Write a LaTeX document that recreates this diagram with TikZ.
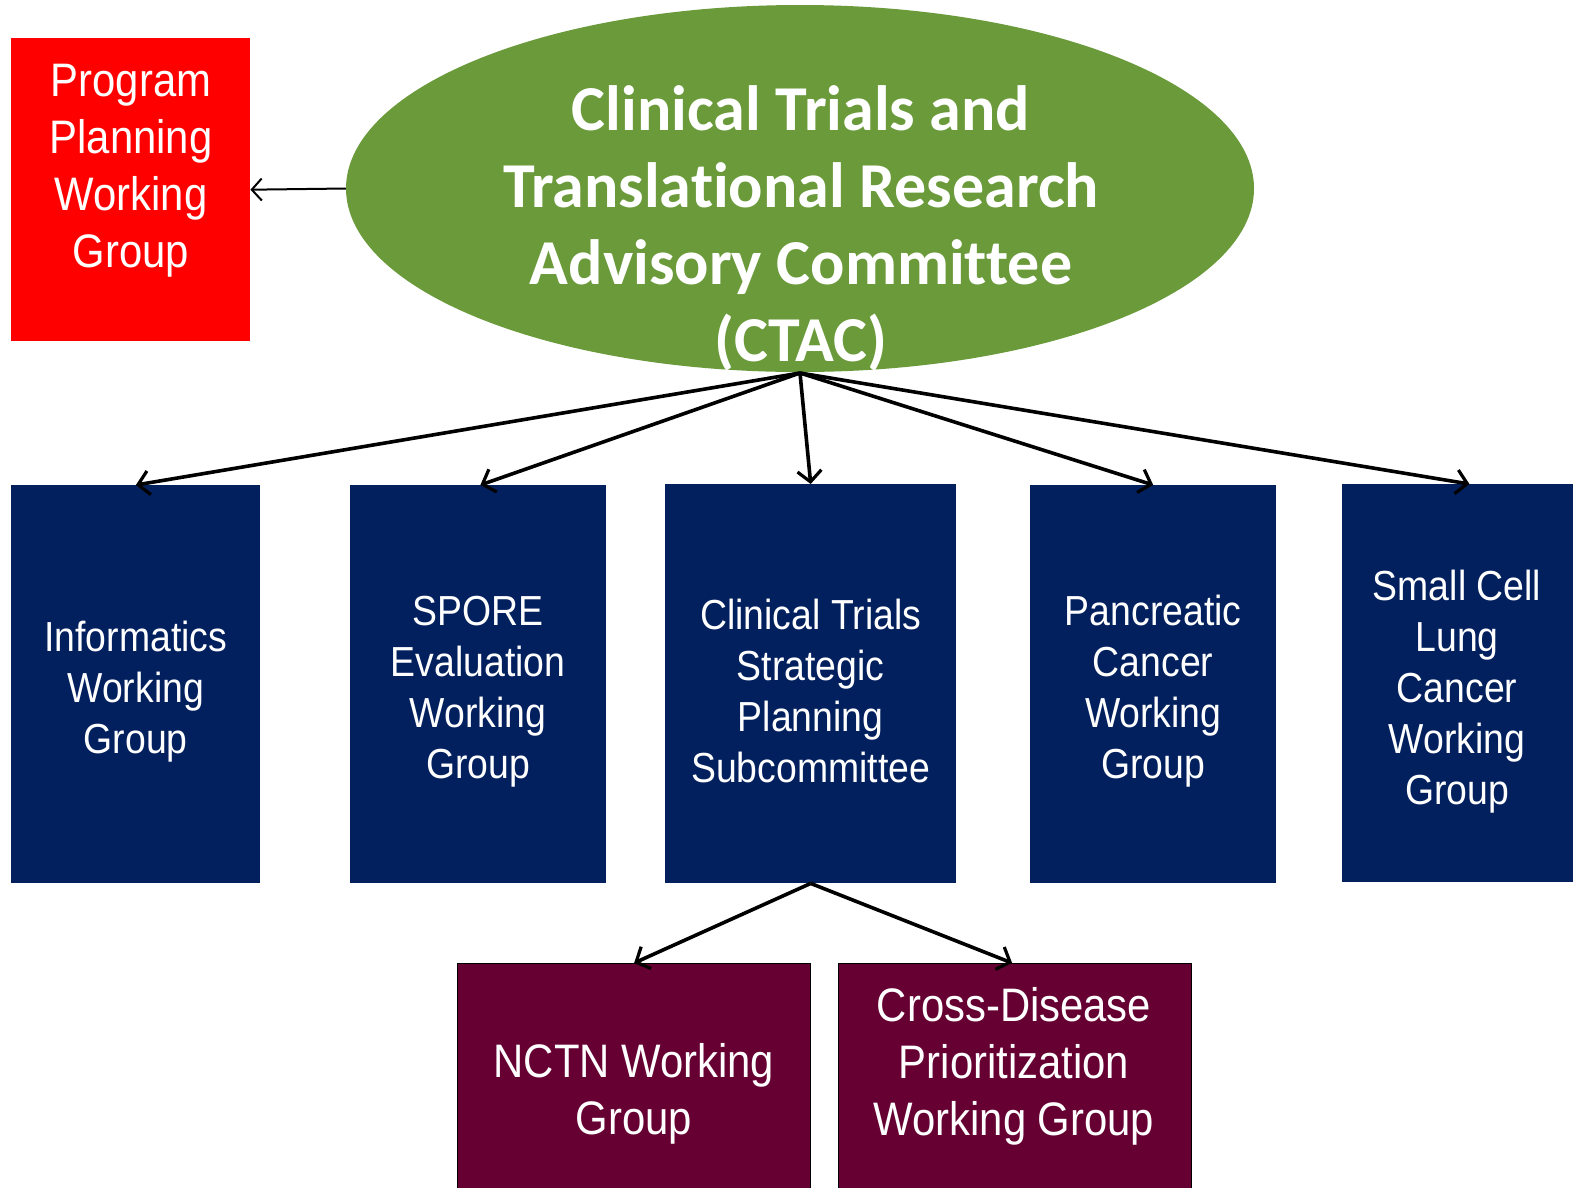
\documentclass[tikz,border=0pt]{standalone}
\usepackage{fontspec}
\setmainfont[FakeStretch=0.89]{Liberation Sans}
\newfontfamily\titlefont[Ligatures={NoCommon,NoRare,NoDiscretionary}]{Carlito}
\usetikzlibrary{arrows.meta,shapes.geometric}
\definecolor{ctacgreen}{HTML}{6A9A3A}
\definecolor{wgnavy}{HTML}{03205E}
\definecolor{wgmaroon}{HTML}{660033}
\definecolor{wgred}{HTML}{FF0000}
\tikzset{
  box/.style={draw=none, rectangle, inner sep=0pt, anchor=north west},
  navybox/.style={box, fill=wgnavy},
  maroonbox/.style={box, fill=wgmaroon, draw=black, line width=1.2pt},
  txt/.style={text=white, align=center, inner sep=0pt},
  bluetxt/.style={txt, yshift=-7pt, font=\fontsize{42}{51}\selectfont},
  bigtxt/.style={txt, yshift=-6pt, font=\fontsize{47}{57}\selectfont},
  conn/.style={line width=3.6pt, -{Straight Barb[length=11pt,width=24pt,line width=3.2pt]}},
  thinconn/.style={line width=2pt, -{Straight Barb[length=10pt,width=22pt,line width=2pt]}},
}
\begin{document}
\begin{tikzpicture}[x=1pt,y=-1pt]
\useasboundingbox (0,0) rectangle (1573,1187);
\clip (0,0) rectangle (1573,1187);
% ellipse
\node[ellipse, fill=ctacgreen, minimum width=908pt, minimum height=367pt, inner sep=0pt] (ctac) at (800,188.5) {};
\node[txt, font=\titlefont\bfseries\fontsize{64}{77}\selectfont] (ctactxt) at (801,228) {Clinical Trials and\\Translational Research\\Advisory Committee\\(CTAC)};
\coordinate (ctacbot) at (800,373);
% red box
\node[box, fill=wgred, minimum width=239pt, minimum height=303pt] (ppwg) at (11,38) {};
\node[bigtxt] (ppwgtxt) at (131,165) {Program\\Planning\\Working\\Group};
% navy boxes
\node[navybox, minimum width=249pt, minimum height=398pt] (inf) at (11,485) {};
\node[navybox, minimum width=256pt, minimum height=398pt] (spore) at (350,485) {};
\node[navybox, minimum width=291pt, minimum height=399pt] (ctsps) at (665,484) {};
\node[navybox, minimum width=246pt, minimum height=398pt] (panc) at (1030,485) {};
\node[navybox, minimum width=240pt, minimum height=398pt] (sclc) at (1342,484) {};
\node[bluetxt] at (inf.center) {Informatics\\Working\\Group};
\node[bluetxt] at (spore.center) {SPORE\\Evaluation\\Working\\Group};
\node[bluetxt] at (ctsps.center) {Clinical Trials\\Strategic\\Planning\\Subcommittee};
\node[bluetxt] at (panc.center) {Pancreatic\\Cancer\\Working\\Group};
\node[bluetxt] at (1457,685) {Small Cell\\Lung\\Cancer\\Working\\Group};
% maroon boxes
\node[maroonbox, minimum width=353pt, minimum height=260pt] (nctn) at (457,963) {};
\node[maroonbox, minimum width=353pt, minimum height=260pt] (cdp) at (838,963) {};
\node[bigtxt] at (634,1088) {NCTN Working\\Group};
\node[bigtxt] at (1014,1060) {Cross-Disease\\Prioritization\\Working Group};
% connectors
\draw[thinconn] (ctac.west) -- (ppwg.east);
\draw[conn] (ctacbot) -- ([xshift=-124.5pt]inf.north east);
\draw[conn] (ctacbot) -- ([xshift=-126pt]spore.north east);
\draw[conn] (ctacbot) -- (ctsps.north);
\draw[conn] (ctacbot) -- (panc.north);
\draw[conn] (ctacbot) -- ([xshift=-113pt]sclc.north east);
\draw[conn] (ctsps.south) -- (nctn.north);
\draw[conn] (ctsps.south) -- ([xshift=-3pt]cdp.north);
\end{tikzpicture}
\end{document}
